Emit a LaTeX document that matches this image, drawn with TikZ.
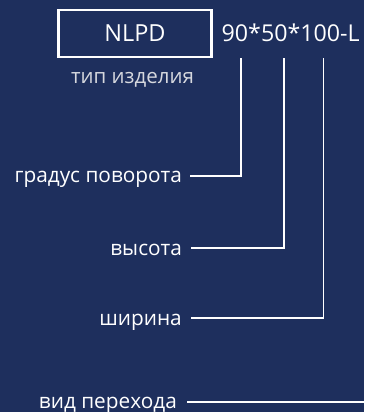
\documentclass[tikz,border=0pt]{standalone}
\usepackage{fontspec}
\setmainfont{Open Sans}
\definecolor{bg}{HTML}{1E2F5D}
\definecolor{sub}{HTML}{D6D8DE}
\begin{document}
\begin{tikzpicture}[x=1pt,y=-1pt,
  lbl/.style={text=white,font=\fontsize{20.8}{21}\selectfont,inner sep=0pt,anchor=base east},
  conn/.style={draw=white,line width=1.6pt},
  codebox/.style={draw=white,line width=2.6pt,minimum width=153pt,minimum height=47pt,inner sep=0pt,text=white,font=\fontsize{23.5}{24}\selectfont}]
\fill[bg] (0,0) rectangle (364,412);
\useasboundingbox (0,0) rectangle (364,412);
\node[codebox] (box) at (135,33.5) {NLPD};
\node[text=white,font=\fontsize{23.2}{24}\selectfont,inner sep=0pt,anchor=base west] (code) at (221.5,41.5) {90*50*100-L};
\node[text=sub,font=\fontsize{20.5}{21}\selectfont,inner sep=0pt,anchor=base] (tip) at (132.5,83) {тип изделия};
\node[lbl] (g) at (182,182) {градус поворота};
\node[lbl] (v) at (182,255) {высота};
\node[lbl] (s) at (182,325) {ширина};
\node[lbl] (p) at (177,408) {вид перехода};
\coordinate (t1) at (241,58);
\coordinate (t2) at (284,58);
\coordinate (t3) at (323.5,58);
\coordinate (g0) at (190,176);
\coordinate (v0) at (191,248);
\coordinate (s0) at (191,318);
\coordinate (p0) at (187,402);
\coordinate (pe) at (364,402);
\draw[conn] (g0) -| (t1);
\draw[conn] (v0) -| (t2);
\draw[conn] (s0) -| (t3);
\draw[conn] (p0) -- (pe);
\end{tikzpicture}
\end{document}
